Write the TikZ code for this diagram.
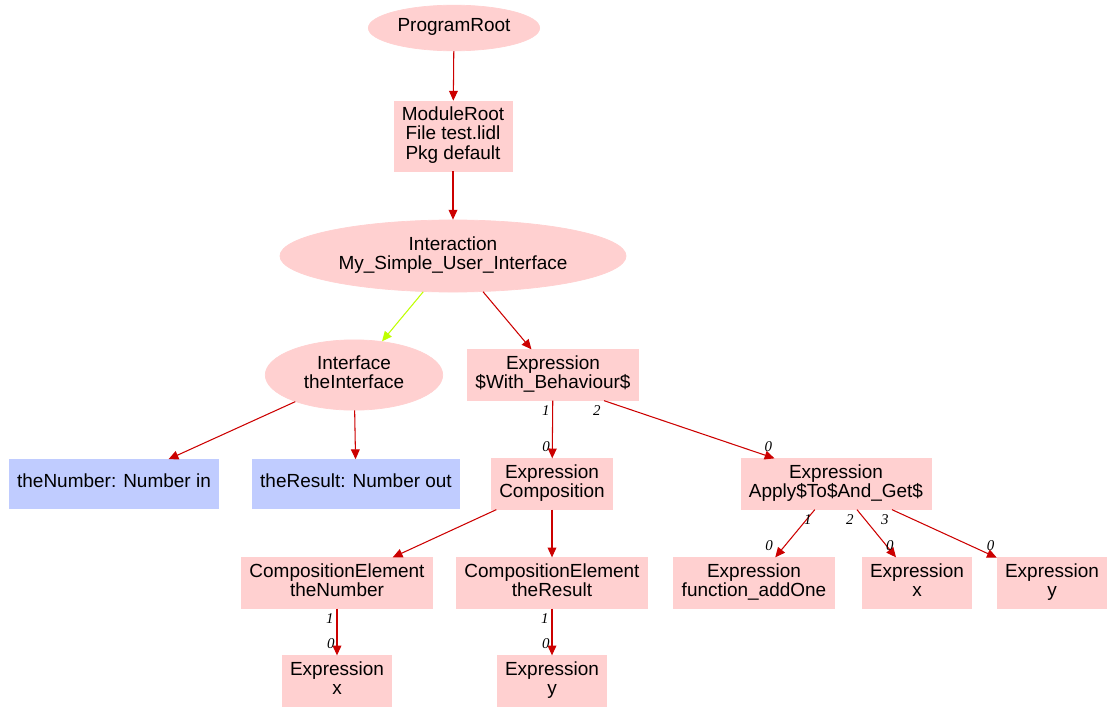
\documentclass[tikz,border=0pt]{standalone}
\usepackage{fontspec}
\setmainfont{Liberation Sans}
\newfontfamily\lblfont{Liberation Serif}
\usetikzlibrary{shapes.geometric,arrows.meta}

\definecolor{nodepink}{RGB}{255,208,208}
\definecolor{nodeblue}{RGB}{192,204,255}
\definecolor{edgered}{RGB}{204,0,0}
\definecolor{edgelime}{RGB}{191,255,0}

\tikzset{
  ast/.style={rectangle, fill=nodepink, draw=nodepink, align=center, inner xsep=4.5pt,
    minimum height=27.8pt, minimum width=62pt, font=\fontsize{10.8}{11}\selectfont,
    execute at begin node=\strut, execute at end node=\strut},
  astround/.style={ellipse, fill=nodepink, draw=nodepink, align=center, inner sep=0pt,
    font=\fontsize{10.8}{11}\selectfont,
    execute at begin node=\strut, execute at end node=\strut},
  port/.style={ast, fill=nodeblue, draw=nodeblue},
  link/.style={draw=edgered, line width=0.6pt, -{Triangle[length=5.6pt,width=5pt]}},
  taillbl/.style={pos=0, xshift=-4pt, yshift=-5.7pt, inner sep=0pt,
    execute at begin node={}, execute at end node={},
    font=\lblfont\itshape\fontsize{8.5}{9}\selectfont},
  headlbl/.style={pos=1, xshift=-3.5pt, yshift=6.8pt, inner sep=0pt,
    font=\lblfont\itshape\fontsize{8.5}{9}\selectfont}
}

\begin{document}
\begin{tikzpicture}[x=0.02cm, y=-0.02cm]
    \useasboundingbox (0,0) rectangle (1113,713);

    % top of the tree
    \node[astround, minimum width=97.5pt, minimum height=26pt] (progroot) at (454,28) {ProgramRoot};
    \node[ast] (modroot) at (453,136) {ModuleRoot\\File test.lidl\\Pkg default};
    \node[astround, minimum width=197pt, minimum height=41pt] (interaction) at (453,256) {Interaction\\My\_Simple\_User\_Interface};

    % interface side
    \node[astround, minimum width=101pt, minimum height=40pt] (iface) at (354,375) {Interface\\theInterface};
    \node[port] (thenumber) at (114,484) {theNumber: Number in};
    \node[port] (theresult) at (356,484) {theResult: Number out};

    % behaviour side
    \node[ast] (withbeh) at (553,375) {Expression\\\$With\_Behaviour\$};
    \node[ast] (compo) at (552,484) {Expression\\Composition};
    \node[ast] (apply) at (836,484) {Expression\\Apply\$To\$And\_Get\$};
    \node[ast] (elnumber) at (337,583) {CompositionElement\\theNumber};
    \node[ast] (elresult) at (552,583) {CompositionElement\\theResult};
    \node[ast] (addone) at (754,583) {Expression\\function\_addOne};
    \node[ast] (applyx) at (917,583) {Expression\\x};
    \node[ast] (applyy) at (1052,583) {Expression\\y};
    \node[ast] (exprx) at (337,681) {Expression\\x};
    \node[ast] (expry) at (552,681) {Expression\\y};

    % edges
    \draw[link] (progroot) -- (modroot);
    \draw[link] (modroot) -- (interaction);
    \draw[link, draw=edgelime, -{Triangle[length=5.6pt,width=5pt,fill=edgelime]}] (interaction) -- (iface);
    \draw[link] (interaction) -- (withbeh);
    \draw[link] (iface) -- (thenumber);
    \draw[link] (iface) -- (theresult);

    \draw[link] (withbeh) -- node[taillbl] {1} node[headlbl] {0} (compo);
    \draw[link] ([xshift=29pt]withbeh.south) -- node[taillbl] {2} node[headlbl] {0} ([xshift=-35pt]apply.north);
    \draw[link] (compo) -- (elnumber);
    \draw[link] (compo) -- (elresult);
    \draw[link] (elnumber) -- node[taillbl] {1} node[headlbl] {0} (exprx);
    \draw[link] (elresult) -- node[taillbl] {1} node[headlbl] {0} (expry);
    \draw[link] (apply) -- node[taillbl] {1} node[headlbl] {0} (addone);
    \draw[link] (apply) -- node[taillbl] {2} node[headlbl] {0} (applyx);
    \draw[link] (apply) -- node[taillbl] {3} node[headlbl] {0} (applyy);
\end{tikzpicture}
\end{document}
